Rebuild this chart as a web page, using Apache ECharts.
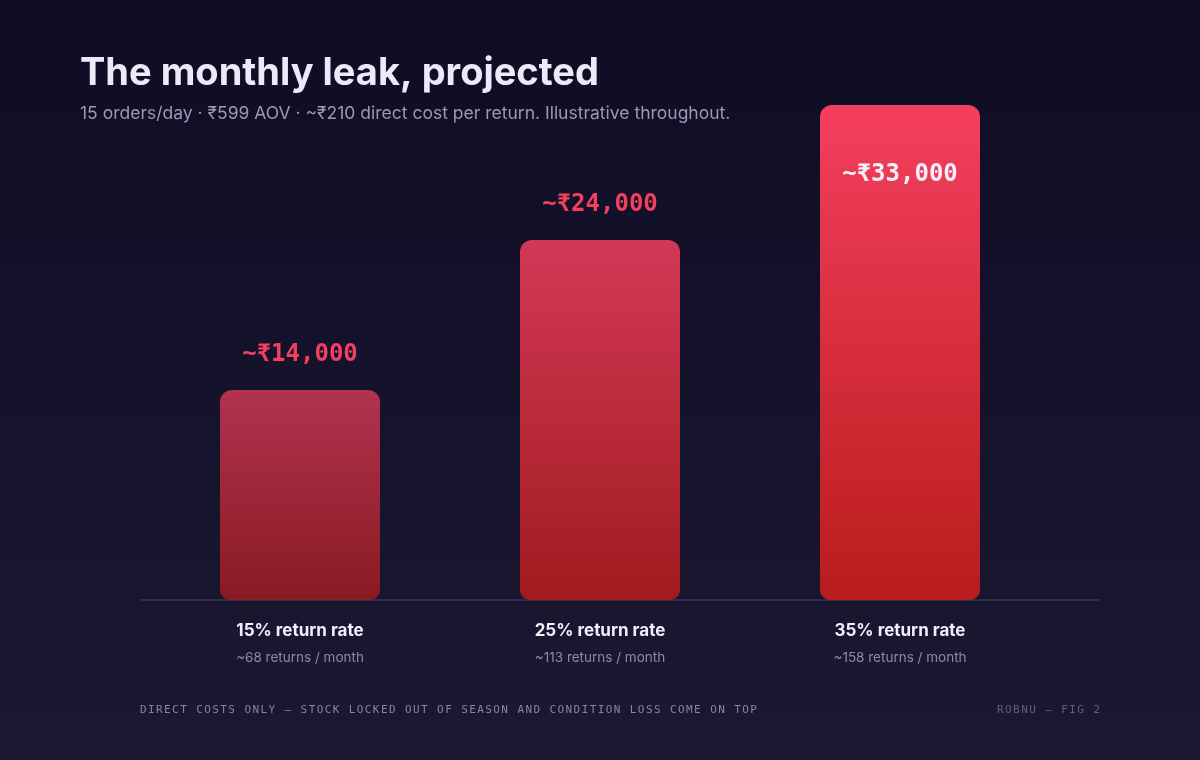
<!DOCTYPE html>
<html>
<head>
<meta charset="utf-8">
<script src="https://cdn.jsdelivr.net/npm/echarts@6/dist/echarts.min.js"></script>
<style>
  html, body { margin: 0; padding: 0; }
  #main { width: 1200px; height: 760px; }
</style>
</head>
<body>
<div id="main"></div>
<script>
// data
const categories = ['15% return rate', '25% return rate', '35% return rate'];
const returnsPerMonth = [68, 113, 158];
const leakValues = [14000, 24000, 33000];
const barAlpha = [0.7, 0.85, 1];

const titleText = 'The monthly leak, projected';
const subText = '15 orders/day · ₹599 AOV · ~₹210 direct cost per return. Illustrative throughout.';
const footLeft = 'DIRECT COSTS ONLY — STOCK LOCKED OUT OF SEASON AND CONDITION LOSS COME ON TOP';
const footRight = 'ROBNU — FIG 2';

const sans = 'Inter, "Noto Sans", sans-serif';
const mono = '"DejaVu Sans Mono", monospace';

let myChart = echarts.init(document.getElementById('main'));

function fmt(v) {
	return '~₹' + v.toLocaleString('en-US');
}

// spaced-out mono text, one glyph per element
function spacedText(str, x, y, pitch, color, alignRight) {
	let out = [];
	let start = alignRight ? x - (str.length - 1) * pitch - 6.6 : x;
	for (let i = 0; i < str.length; i++) {
		if (str[i] === ' ') continue;
		out.push({
			type: 'text',
			x: start + i * pitch,
			y: y,
			silent: true,
			style: {
				text: str[i],
				fill: color,
				font: '11px ' + mono,
				textVerticalAlign: 'middle'
			}
		});
	}
	return out;
}

let barData = [];
for (let i = 0; i < leakValues.length; i++) {
	let inside = i === leakValues.length - 1;
	let a = barAlpha[i];
	barData.push({
		value: leakValues[i],
		itemStyle: {
			color: new echarts.graphic.LinearGradient(0, 0, 0, 1, [
				{ offset: 0, color: 'rgba(244,63,94,' + a + ')' },
				{ offset: 1, color: 'rgba(185,28,28,' + a + ')' }
			])
		},
		label: inside ? {
			position: 'insideTop',
			distance: 58,
			color: '#f3f0fa'
		} : {
			position: 'top',
			distance: 23,
			color: '#f43f5e'
		}
	});
}

let graphics = [{
	type: 'line',
	silent: true,
	shape: { x1: 140, y1: 600, x2: 1100, y2: 600 },
	style: { stroke: '#35334f', lineWidth: 1.5 }
}];
graphics = graphics.concat(spacedText(footLeft, 140, 710, 8.03, '#8784a3', false));
graphics = graphics.concat(spacedText(footRight, 1100, 710, 8.03, '#625f7e', true));

let option = {
	backgroundColor: new echarts.graphic.LinearGradient(0, 0, 0, 1, [
		{ offset: 0, color: '#0e0d24' },
		{ offset: 1, color: '#1b1932' }
	]),
	title: {
		text: titleText,
		subtext: subText,
		left: 75,
		top: 47,
		itemGap: 6,
		textStyle: {
			color: '#eceaf8',
			fontFamily: sans,
			fontWeight: 700,
			fontSize: 38,
			lineHeight: 44
		},
		subtextStyle: {
			color: '#9c98b6',
			fontFamily: sans,
			fontSize: 17.5,
			lineHeight: 24
		}
	},
	grid: {
		left: 150,
		width: 900,
		top: 105,
		bottom: 160
	},
	xAxis: {
		type: 'category',
		data: categories,
		axisLine: { show: false },
		axisTick: { show: false },
		axisLabel: {
			margin: 18,
			formatter: function (value, idx) {
				return '{a|' + value + '}\n{b|~' + returnsPerMonth[idx] + ' returns / month}';
			},
			rich: {
				a: {
					color: '#f1eff9',
					fontFamily: sans,
					fontWeight: 700,
					fontSize: 17,
					lineHeight: 26
				},
				b: {
					color: '#8d89a7',
					fontFamily: sans,
					fontSize: 13.5,
					lineHeight: 28
				}
			}
		}
	},
	yAxis: {
		type: 'value',
		min: 0,
		max: 33000,
		show: false,
		splitLine: { show: false }
	},
	series: [{
		type: 'bar',
		barWidth: 160,
		data: barData,
		itemStyle: {
			borderRadius: [12, 12, 10, 10]
		},
		label: {
			show: true,
			formatter: function (p) {
				return fmt(p.value);
			},
			fontFamily: mono,
			fontWeight: 'bold',
			fontSize: 24,
			lineHeight: 24
		},
		z: 3
	}],
	graphic: graphics,
	animation: false
};

myChart.setOption(option);
</script>
</body>
</html>
